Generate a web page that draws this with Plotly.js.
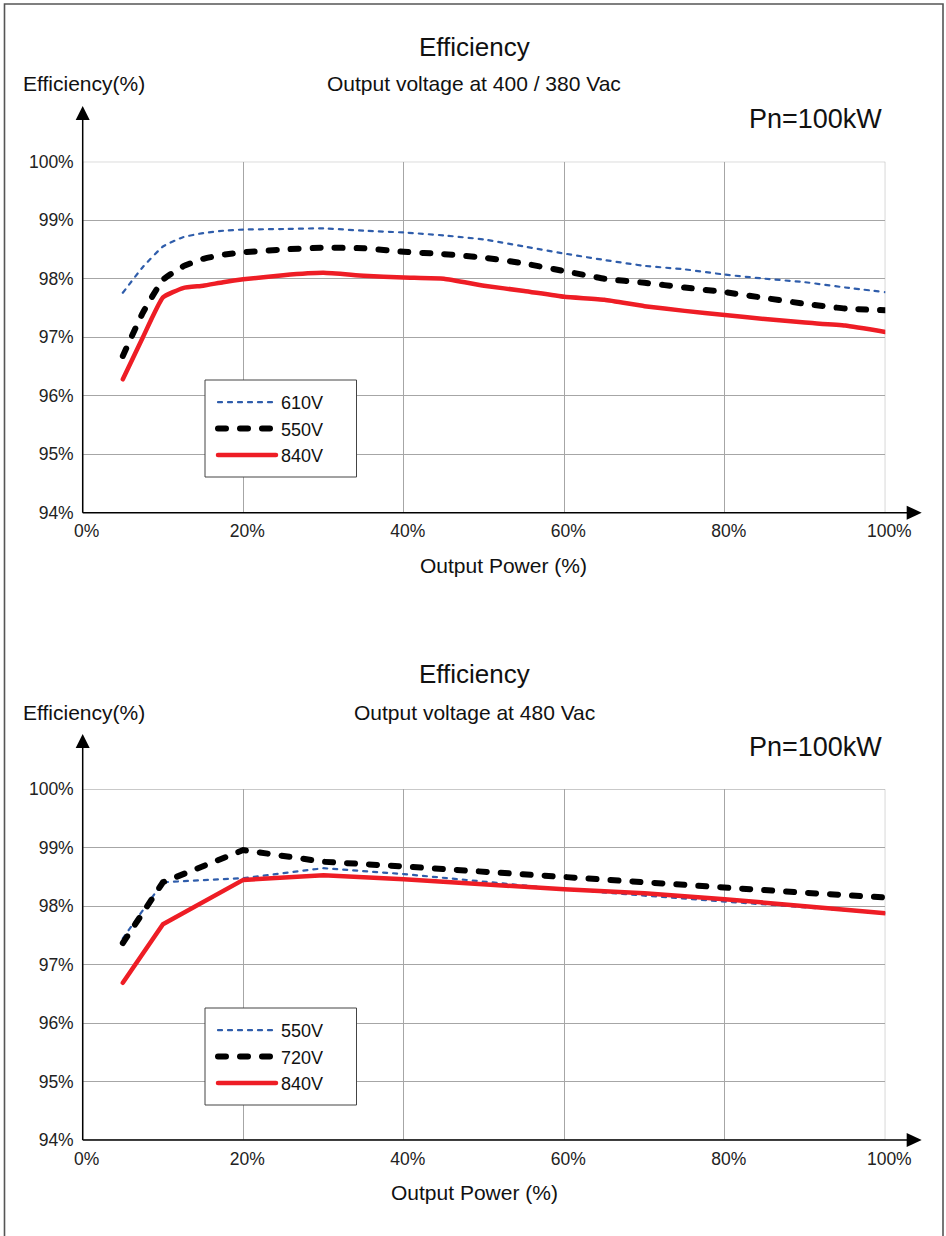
<!DOCTYPE html>
<html>
<head>
<meta charset="utf-8">
<script src="https://cdn.plot.ly/plotly-3.0.1.min.js"></script>
<style>
html,body{margin:0;padding:0;background:#fff;}
#chart{width:946px;height:1236px;}
#chart path.js-line{stroke-linecap:round !important;}
</style>
</head>
<body>
<div id="chart"></div>
<script>
// ---- data ----
const powerTop = [5,7.5,10,12.5,15,17.5,20,25,30,35,40,45,50,55,60,65,70,75,80,85,90,95,100];
const eff610Top = [97.76,98.20,98.55,98.71,98.78,98.82,98.84,98.85,98.86,98.82,98.79,98.74,98.67,98.55,98.43,98.32,98.22,98.16,98.07,98.00,97.94,97.85,97.77];
const eff550Top = [96.68,97.42,97.98,98.21,98.34,98.41,98.45,98.50,98.53,98.52,98.46,98.42,98.36,98.26,98.13,98.00,97.93,97.85,97.77,97.67,97.57,97.49,97.46];
const eff840Top = [96.28,97.00,97.68,97.84,97.88,97.94,97.99,98.06,98.10,98.05,98.02,98.00,97.88,97.79,97.69,97.64,97.53,97.45,97.38,97.31,97.25,97.20,97.09];

const powerBot = [5,10,20,30,40,50,60,70,80,90,100];
const eff550Bot = [97.45,98.41,98.48,98.65,98.55,98.42,98.29,98.18,98.08,97.98,97.88];
const eff720Bot = [97.37,98.41,98.96,98.76,98.68,98.59,98.48,98.39,98.32,98.23,98.15];
const eff840Bot = [96.69,97.69,98.45,98.53,98.46,98.37,98.29,98.22,98.12,98.00,97.88];

const namesTop = ['610V','550V','840V'];
const namesBot = ['550V','720V','840V'];
const xTicks = [0,20,40,60,80,100];
const xTickText = ['0%','20%','40%','60%','80%','100%'];
const yTicks = [94,95,96,97,98,99,100];
const yTickText = ['94%','95%','96%','97%','98%','99%','100%'];

// ---- geometry helpers ----
const W = 946, H = 1236;
const px = v => v / W;
const py = v => 1 - v / H;
const FONT = 'Liberation Sans, Arial, sans-serif';
const BLUE = '#2F5DAB', RED = '#EE1D25', BLACK = '#000000';

// round caps are applied by CSS, so dash lengths are shortened by the line width
const styleBlue = {color: BLUE, width: 2.2, dash: '4px,6px'};
const styleBlack = {color: BLACK, width: 6, dash: '8px,14px'};
const styleRed = {color: RED, width: 4.5};

const traces = [
  {x: powerTop, y: eff610Top, name: namesTop[0], mode: 'lines', line: Object.assign({shape:'spline', smoothing:0.4}, styleBlue), xaxis:'x', yaxis:'y', legend:'legend'},
  {x: powerTop, y: eff550Top, name: namesTop[1], mode: 'lines', line: Object.assign({shape:'spline', smoothing:0.4}, styleBlack), xaxis:'x', yaxis:'y', legend:'legend'},
  {x: powerTop, y: eff840Top, name: namesTop[2], mode: 'lines', line: Object.assign({shape:'spline', smoothing:0.4}, styleRed), xaxis:'x', yaxis:'y', legend:'legend'},
  {x: powerBot, y: eff550Bot, name: namesBot[0], mode: 'lines', line: styleBlue, xaxis:'x2', yaxis:'y2', legend:'legend2'},
  {x: powerBot, y: eff720Bot, name: namesBot[1], mode: 'lines', line: styleBlack, xaxis:'x2', yaxis:'y2', legend:'legend2'},
  {x: powerBot, y: eff840Bot, name: namesBot[2], mode: 'lines', line: styleRed, xaxis:'x2', yaxis:'y2', legend:'legend2'}
];

// plot boxes in pixels
const X0 = 82.7, X1 = 885.3;
const boxes = [
  {top: 161.7, bottom: 512.7, arrowTop: 106, arrowRight: 921.7, legTop: 380, legBottom: 477},
  {top: 789.3, bottom: 1140.0, arrowTop: 734, arrowRight: 921.7, legTop: 1008, legBottom: 1105}
];
const LEG_L = 205, LEG_R = 356.5;

function xAxis(dom, anchor) {
  return {domain: dom, anchor: anchor, range: [0,100], tickmode:'array', tickvals: xTicks, ticktext: xTickText,
    showgrid: true, gridcolor: '#a6a6a6', gridwidth: 1, zeroline: false, showline: false, ticks: '',
    ticklabelstandoff: 6, ticklabelshift: 4, fixedrange: true,
    tickfont: {family: FONT, size: 17.5, color: '#222'}};
}
function yAxis(dom, anchor) {
  return {domain: dom, anchor: anchor, range: [94,100], tickmode:'array', tickvals: yTicks, ticktext: yTickText,
    showgrid: true, gridcolor: '#a6a6a6', gridwidth: 1, zeroline: false, showline: false, ticks: '',
    ticklabelstandoff: 8, fixedrange: true,
    tickfont: {family: FONT, size: 17.5, color: '#222'}};
}

const shapes = [];
// outer frame
shapes.push({type:'rect', xref:'paper', yref:'paper', x0: px(4.5), x1: px(943), y0: -0.02, y1: py(4), line:{color:'#555', width:1.6}, fillcolor:'rgba(0,0,0,0)'});
boxes.forEach((b, i) => {
  const xr = i === 0 ? 'x' : 'x2', yr = i === 0 ? 'y' : 'y2';
  // grid border (top/right)
  shapes.push({type:'rect', xref:xr, yref:yr, x0:0, x1:100, y0:94, y1:100, line:{color:'#a6a6a6', width:1}, layer:'below'});
  // y axis line with arrow
  shapes.push({type:'line', xref:'paper', yref:'paper', x0: px(X0), x1: px(X0), y0: py(b.bottom), y1: py(b.arrowTop + 10), line:{color:'#000', width:1.5}});
  shapes.push({type:'path', xref:'paper', yref:'paper', fillcolor:'#000', line:{color:'#000', width:0},
    path: `M ${px(X0)},${py(b.arrowTop)} L ${px(X0 - 7)},${py(b.arrowTop + 14)} L ${px(X0 + 7)},${py(b.arrowTop + 14)} Z`});
  // x axis line with arrow
  shapes.push({type:'line', xref:'paper', yref:'paper', x0: px(X0), x1: px(b.arrowRight - 10), y0: py(b.bottom), y1: py(b.bottom), line:{color:'#000', width:1.5}});
  shapes.push({type:'path', xref:'paper', yref:'paper', fillcolor:'#000', line:{color:'#000', width:0},
    path: `M ${px(b.arrowRight)},${py(b.bottom)} L ${px(b.arrowRight - 15)},${py(b.bottom - 7)} L ${px(b.arrowRight - 15)},${py(b.bottom + 7)} Z`});
  // legend frame
  shapes.push({type:'rect', xref:'paper', yref:'paper', x0: px(LEG_L), x1: px(LEG_R), y0: py(b.legBottom), y1: py(b.legTop),
    line:{color:'#444', width:1}, fillcolor:'#fff', layer:'above'});
});

function ann(text, x, y, size, xanchor) {
  return {text: text, xref:'paper', yref:'paper', x: px(x), y: py(y), xanchor: xanchor || 'center', yanchor:'middle',
    showarrow:false, font:{family: FONT, size: size, color:'#111'}};
}
const annotations = [
  ann('Efficiency', 474, 47, 26),
  ann('Output voltage at 400 / 380 Vac', 474, 84, 21),
  ann('Efficiency(%)', 21, 84, 21, 'left'),
  ann('Pn=100kW', 884, 119, 27, 'right'),
  ann('Output Power (%)', 503, 565, 21),
  ann('Efficiency', 474, 674, 26),
  ann('Output voltage at 480 Vac', 474, 712, 21),
  ann('Efficiency(%)', 21, 712, 21, 'left'),
  ann('Pn=100kW', 884, 747, 27, 'right'),
  ann('Output Power (%)', 474, 1192, 21)
];

function legendBox(topPx) {
  return {x: px(213), y: py(topPx + 4), xanchor:'left', yanchor:'top', bgcolor:'rgba(0,0,0,0)', borderwidth:0,
    font:{family: FONT, size: 18, color:'#111'}, itemwidth: 58, traceorder:'normal'};
}

const layout = {
  width: W, height: H, margin:{l:0, r:0, t:0, b:0}, paper_bgcolor:'#fff', plot_bgcolor:'#fff',
  showlegend: true,
  xaxis: xAxis([px(X0), px(X1)], 'y'),
  yaxis: yAxis([py(boxes[0].bottom), py(boxes[0].top)], 'x'),
  xaxis2: xAxis([px(X0), px(X1)], 'y2'),
  yaxis2: yAxis([py(boxes[1].bottom), py(boxes[1].top)], 'x2'),
  legend: legendBox(boxes[0].legTop),
  legend2: legendBox(boxes[1].legTop),
  shapes: shapes,
  annotations: annotations
};

Plotly.newPlot('chart', traces, layout, {staticPlot: true, displayModeBar: false});
</script>
</body>
</html>
